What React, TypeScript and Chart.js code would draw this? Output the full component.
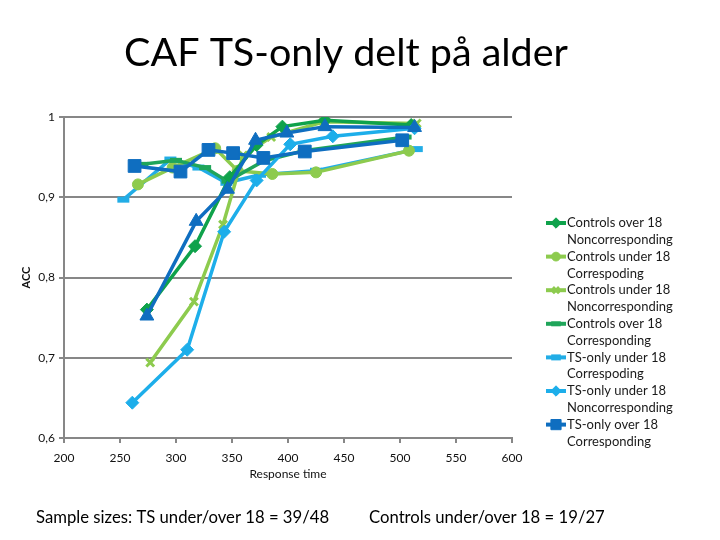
import React, { useEffect, useRef } from 'react';
import { Chart, registerables } from 'chart.js';
import { drawPoint } from 'chart.js/helpers';

Chart.register(...registerables);

// ---- texts ----
const titleText = 'CAF TS-only delt på alder';
const footLeft = 'Sample sizes: TS under/over 18 = 39/48';
const footRight = 'Controls under/over 18 = 19/27';
const xAxisTitle = 'Response time';
const yAxisTitle = 'ACC';

// ---- tick labels ----
const xTickValues = [200, 250, 300, 350, 400, 450, 500, 550, 600];
const xTickLabels = ['200', '250', '300', '350', '400', '450', '500', '550', '600'];
const yTickValues = [0.6, 0.7, 0.8, 0.9, 1];
const yTickLabels = ['0,6', '0,7', '0,8', '0,9', '1'];

// ---- series data ----
const ctrlOverNoncorrX = [274, 317, 348, 372, 395, 433, 510];
const ctrlOverNoncorrY = [0.76, 0.839, 0.925, 0.965, 0.988, 0.996, 0.99];

const ctrlUnderCorrX = [266, 297, 335, 355, 386, 425, 508];
const ctrlUnderCorrY = [0.916, 0.937, 0.961, 0.933, 0.929, 0.931, 0.958];

const ctrlUnderNoncorrX = [277, 316, 342, 360, 385, 432, 515];
const ctrlUnderNoncorrY = [0.694, 0.77, 0.866, 0.952, 0.975, 0.994, 0.992];

const ctrlOverCorrX = [270, 300, 326, 346, 378, 414, 505];
const ctrlOverCorrY = [0.941, 0.946, 0.937, 0.92, 0.945, 0.958, 0.975];

const tsUnderCorrX = [253, 295, 320, 345, 375, 425, 515];
const tsUnderCorrY = [0.897, 0.947, 0.937, 0.918, 0.928, 0.933, 0.96];

const tsUnderNoncorrX = [261, 310, 343, 372, 402, 440, 513];
const tsUnderNoncorrY = [0.644, 0.71, 0.857, 0.921, 0.966, 0.976, 0.986];

const tsOverCorrX = [263, 304, 329, 351, 378, 415, 502];
const tsOverCorrY = [0.939, 0.932, 0.959, 0.955, 0.949, 0.957, 0.971];

const tsOverNoncorrX = [274, 318, 346, 371, 399, 433, 513];
const tsOverNoncorrY = [0.752, 0.87, 0.91, 0.971, 0.98, 0.988, 0.987];

const seriesLabels: string[][] = [
  ['Controls over 18', 'Noncorresponding'],
  ['Controls under 18', 'Correspoding'],
  ['Controls under 18', 'Noncorresponding'],
  ['Controls over 18', 'Corresponding'],
  ['TS-only under 18', 'Correspoding'],
  ['TS-only under 18', 'Noncorresponding'],
  ['TS-only over 18', 'Corresponding'],
  ['TS-only over 18', 'Noncorresponding'],
];

const FONT = 'Lato, "Open Sans", sans-serif';
const GRID = '#878787';

const toPoints = (xs: number[], ys: number[]) => xs.map((x, i) => ({ x, y: ys[i] }));

type Style = { color: string; pointStyle: string; radius: number; pbw: number; order: number; legend: boolean };

const styles: Style[] = [
  { color: '#0FA24B', pointStyle: 'rectRot', radius: 6.5, pbw: 1, order: 3, legend: true },
  { color: '#8DCB4E', pointStyle: 'circle', radius: 5.5, pbw: 1, order: 5, legend: true },
  { color: '#8DCB4E', pointStyle: 'crossRot', radius: 5.5, pbw: 3, order: 6, legend: true },
  { color: '#1FA55A', pointStyle: 'line', radius: 6, pbw: 5, order: 4, legend: true },
  { color: '#22ADE6', pointStyle: 'line', radius: 6, pbw: 6, order: 7, legend: true },
  { color: '#1DAEEA', pointStyle: 'rectRot', radius: 6.5, pbw: 1, order: 2, legend: true },
  { color: '#0F6EC0', pointStyle: 'rect', radius: 9, pbw: 1, order: 0, legend: true },
  { color: '#0F6EC0', pointStyle: 'triangle', radius: 8, pbw: 1, order: 1, legend: false },
];

const seriesX = [ctrlOverNoncorrX, ctrlUnderCorrX, ctrlUnderNoncorrX, ctrlOverCorrX, tsUnderCorrX, tsUnderNoncorrX, tsOverCorrX, tsOverNoncorrX];
const seriesY = [ctrlOverNoncorrY, ctrlUnderCorrY, ctrlUnderNoncorrY, ctrlOverCorrY, tsUnderCorrY, tsUnderNoncorrY, tsOverCorrY, tsOverNoncorrY];

const textPlugin = {
  id: 'extraTexts',
  afterDraw(chart: any) {
    const ctx = chart.ctx as CanvasRenderingContext2D;
    ctx.save();
    // title
    ctx.fillStyle = '#000';
    ctx.font = `39.5px ${FONT}`;
    ctx.textAlign = 'center';
    ctx.textBaseline = 'alphabetic';
    ctx.fillText(titleText, 346, 66);
    // footnotes
    ctx.font = `16.7px ${FONT}`;
    ctx.textAlign = 'left';
    ctx.fillText(footLeft, 36, 523);
    ctx.fillText(footRight, 369, 523);
    // legend
    let row = 0;
    chart.data.datasets.forEach((ds: any, i: number) => {
      const st = styles[i];
      if (!st.legend) return;
      const y = 223 + row * 33.6;
      ctx.strokeStyle = st.color;
      ctx.fillStyle = st.color;
      ctx.lineWidth = 4;
      ctx.beginPath();
      ctx.moveTo(546, y);
      ctx.lineTo(566, y);
      ctx.stroke();
      ctx.lineWidth = st.pbw;
      drawPoint(ctx, { pointStyle: st.pointStyle as any, radius: st.radius * 0.8, rotation: 0, borderWidth: st.pbw }, 556, y);
      ctx.fillStyle = '#1a1a1a';
      ctx.font = `13px ${FONT}`;
      ctx.textAlign = 'left';
      ctx.textBaseline = 'middle';
      const lines = seriesLabels[i];
      lines.forEach((t, k) => ctx.fillText(t, 567, y + k * 16.8));
      row++;
    });
    ctx.restore();
  },
};

export default function App() {
  const ref = useRef<HTMLCanvasElement | null>(null);
  useEffect(() => {
    if (!ref.current) return;
    const datasets = seriesX.map((xs, i) => {
      const st = styles[i];
      return {
        label: seriesLabels[i].join(' '),
        data: toPoints(xs, seriesY[i]),
        borderColor: st.color,
        backgroundColor: st.color,
        borderWidth: 3.5,
        pointStyle: st.pointStyle,
        pointRadius: st.radius,
        pointBorderWidth: st.pbw,
        pointBackgroundColor: st.color,
        pointBorderColor: st.color,
        tension: 0,
        order: st.order,
        showLine: true,
      };
    });
    const chart = new Chart(ref.current, {
      type: 'line',
      data: { datasets } as any,
      plugins: [textPlugin],
      options: {
        animation: false,
        responsive: false,
        devicePixelRatio: 1,
        layout: { padding: { left: 20, right: 208, top: 117, bottom: 59 } },
        plugins: { legend: { display: false }, title: { display: false }, tooltip: { enabled: false } },
        scales: {
          x: {
            type: 'linear',
            min: 200,
            max: 600,
            afterFit: (s: any) => { s.height = 43; },
            afterBuildTicks: (s: any) => { s.ticks = xTickValues.map((v) => ({ value: v })); },
            ticks: {
              callback: (v: any) => { const i = xTickValues.indexOf(Number(v)); return i >= 0 ? xTickLabels[i] : ''; },
              font: { family: FONT, size: 12 },
              color: '#111',
              padding: 8,
              maxRotation: 0,
            },
            grid: { drawOnChartArea: false, drawTicks: true, tickLength: 5, color: GRID, lineWidth: 2 },
            border: { display: true, color: GRID, width: 2 },
            title: { display: true, text: xAxisTitle, font: { family: FONT, size: 12 }, color: '#111', padding: 0 },
          },
          y: {
            type: 'linear',
            min: 0.6,
            max: 1,
            afterFit: (s: any) => { s.width = 44; },
            afterBuildTicks: (s: any) => { s.ticks = yTickValues.map((v) => ({ value: v })); },
            ticks: {
              callback: (v: any) => { const i = yTickValues.findIndex((t) => Math.abs(t - Number(v)) < 1e-6); return i >= 0 ? yTickLabels[i] : ''; },
              font: { family: FONT, size: 12 },
              color: '#111',
              padding: 4,
            },
            grid: { drawOnChartArea: true, drawTicks: true, tickLength: 5, color: GRID, lineWidth: 2 },
            border: { display: true, color: GRID, width: 2 },
            title: { display: true, text: yAxisTitle, font: { family: FONT, size: 11, weight: 'bold' }, color: '#111', padding: 0 },
          },
        },
      } as any,
    });
    return () => chart.destroy();
  }, []);
  return (
    <div style={{ position: 'fixed', left: 0, top: 0, width: 720, height: 540, background: '#fff' }}>
      <canvas ref={ref} width={720} height={540} style={{ width: 720, height: 540, display: 'block' }} />
    </div>
  );
}
